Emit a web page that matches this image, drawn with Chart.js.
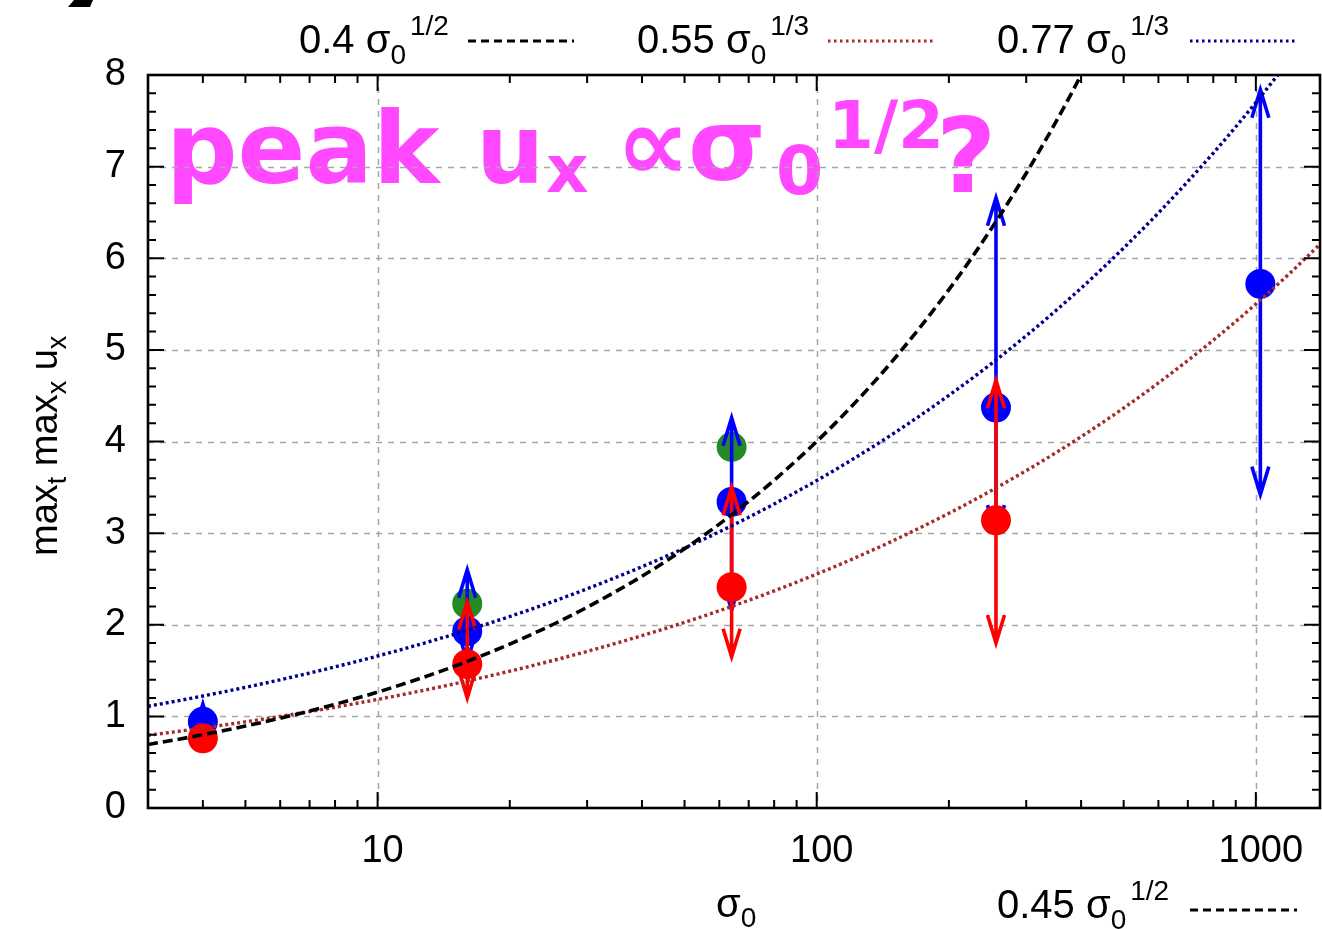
<!DOCTYPE html>
<html>
<head>
<meta charset="utf-8">
<script src="https://cdn.jsdelivr.net/npm/chart.js@4.4.1/dist/chart.umd.min.js"></script>
<style>
  html, body { margin: 0; padding: 0; background: #fff; }
  #wrap { width: 1322px; height: 929px; }
</style>
</head>
<body>
<div id="wrap"><canvas id="peakChart" width="1322" height="929"></canvas></div>
<script>
// runs at sigma_0 = 4^k
const sigma = [4, 16, 64, 256, 1024];

// peak u_x per run, plus the extent of the arrows drawn on each
const greenPeak = [null, 2.23, 3.94, null, null];
const bluePeak  = [0.94, 1.93, 3.34, 4.37, 5.72];
const blueHigh  = [1.135, 2.6, 4.26, 6.66, 7.84];
const blueLow   = [null, 1.6, 2.16, 3.0, 3.42];
const redPeak   = [0.76, 1.57, 2.41, 3.14, null];
const redHigh   = [null, 2.25, 3.5, 4.67, null];
const redLow    = [null, 1.2, 1.65, 1.8, null];

// power-law guides: coef * sigma_0^power
const fitCoef  = [0.4, 0.55, 0.77];
const fitPower = [1 / 2, 1 / 3, 1 / 3];
const fitSigma = [3, 3.5, 4, 5, 6, 7, 8, 10, 12, 14, 16, 20, 25, 30, 40, 50, 60, 70, 80, 100,
                  120, 150, 200, 250, 300, 350, 400, 450, 500, 600, 800, 1000, 1200, 1400];

const xTicks = [10, 100, 1000];
const yTicks = [0, 1, 2, 3, 4, 5, 6, 7, 8];

const AX_FONT = '"Liberation Sans", Arial, sans-serif';
const fitColor = ['#000000', '#a52a2a', '#00008b'];
const fitDash = [[10, 5], [3, 3], [3, 3]];

function pts(ys) {
  return sigma.map((s, i) => ({ x: s, y: ys[i] })).filter(p => p.y !== null);
}

// text with gnuplot-style sub/superscripts, laid out left to right
function drawRich(ctx, parts, x, y) {
  for (const p of parts) {
    ctx.font = (p.bold ? 'bold ' : '') + p.size + 'px ' + (p.family || AX_FONT);
    ctx.fillText(p.t, x + (p.dx || 0), y + (p.dy || 0));
    x += (p.dx || 0) + ctx.measureText(p.t).width;
  }
}

function drawArrow(ctx, x, y0, y1, color) {
  const dir = y1 < y0 ? 1 : -1;
  ctx.save();
  ctx.strokeStyle = color;
  ctx.lineWidth = 3.6;
  ctx.lineCap = 'butt';
  ctx.lineJoin = 'miter';
  ctx.beginPath();
  ctx.moveTo(x, y0);
  ctx.lineTo(x, y1);
  ctx.moveTo(x - 8.5, y1 + dir * 28);
  ctx.lineTo(x, y1);
  ctx.lineTo(x + 8.5, y1 + dir * 28);
  ctx.stroke();
  ctx.restore();
}

function drawArrows(chart, peak, hi, lo, color) {
  const xs = chart.scales.x, ys = chart.scales.y, ctx = chart.ctx;
  sigma.forEach((s, i) => {
    if (peak[i] === null) return;
    const px = xs.getPixelForValue(s), py = ys.getPixelForValue(peak[i]);
    if (hi[i] !== null) drawArrow(ctx, px, py, ys.getPixelForValue(hi[i]), color);
    if (lo[i] !== null) drawArrow(ctx, px, py, ys.getPixelForValue(lo[i]), color);
  });
}

const decor = {
  id: 'decor',
  beforeDatasetsDraw(chart) {
    const { ctx, chartArea: a } = chart;
    const xs = chart.scales.x, ys = chart.scales.y;
    ctx.save();
    // headline
    ctx.fillStyle = '#ff48ff';
    ctx.textBaseline = 'alphabetic';
    const T = '"DejaVu Sans", sans-serif';
    drawRich(ctx, [{ t: 'peak', size: 100, bold: true, family: T }], 166, 183);
    drawRich(ctx, [{ t: 'u', size: 96, bold: true, family: T }], 476, 183);
    drawRich(ctx, [{ t: 'x', size: 66, bold: true, family: T }], 546, 192);
    drawRich(ctx, [{ t: '\u221D', size: 104, bold: true, family: T }], 616, 180);
    drawRich(ctx, [{ t: '\u03C3', size: 100, bold: true, family: T }], 688, 180);
    drawRich(ctx, [{ t: '0', size: 68, bold: true, family: T }], 776, 194);
    drawRich(ctx, [{ t: '1/2', size: 66, bold: true, family: T }], 828, 148);
    drawRich(ctx, [{ t: '?', size: 104, bold: true, family: T }], 936, 192);

    // dashed grid
    ctx.strokeStyle = '#a6a6a6';
    ctx.lineWidth = 1.5;
    ctx.setLineDash([6, 6]);
    ctx.beginPath();
    yTicks.slice(1, -1).forEach(v => {
      const py = Math.round(ys.getPixelForValue(v)) + 0.5;
      ctx.moveTo(a.left, py); ctx.lineTo(a.right, py);
    });
    xTicks.forEach(v => {
      const px = Math.round(xs.getPixelForValue(v)) + 0.5;
      ctx.moveTo(px, a.top); ctx.lineTo(px, a.bottom);
    });
    ctx.stroke();
    ctx.restore();
  },
  afterDatasetDraw(chart, args) {
    const id = chart.data.datasets[args.index].id;
    if (id === 'green') drawArrows(chart, bluePeak, blueHigh, blueLow, '#0000ff');
    if (id === 'blue') drawArrows(chart, redPeak, redHigh, redLow, '#ff0000');
  },
  afterDraw(chart) {
    const { ctx, chartArea: a } = chart;
    const xs = chart.scales.x, ys = chart.scales.y;
    ctx.save();
    ctx.strokeStyle = '#000';
    // tick marks on all four sides
    ctx.lineWidth = 2;
    ctx.beginPath();
    for (let v = 0; v <= 8.001; v += 0.2) {
      const py = ys.getPixelForValue(v);
      const len = Math.abs(v - Math.round(v)) < 1e-6 ? 16 : 8;
      ctx.moveTo(a.left, py); ctx.lineTo(a.left + len, py);
      ctx.moveTo(a.right, py); ctx.lineTo(a.right - len, py);
    }
    for (let d = 1; d <= 1000; d *= 10) {
      for (let k = 1; k <= 9; k++) {
        const v = k * d;
        if (v <= xs.min || v >= xs.max) continue;
        const px = xs.getPixelForValue(v);
        const len = k === 1 ? 16 : 8;
        ctx.moveTo(px, a.bottom); ctx.lineTo(px, a.bottom - len);
        ctx.moveTo(px, a.top); ctx.lineTo(px, a.top + len);
      }
    }
    ctx.stroke();
    ctx.lineWidth = 2.6;
    ctx.strokeRect(a.left, a.top, a.right - a.left, a.bottom - a.top);

    // x tick labels
    ctx.fillStyle = '#000';
    ctx.font = '38px ' + AX_FONT;
    ctx.textAlign = 'center';
    ctx.textBaseline = 'alphabetic';
    xTicks.forEach(v => ctx.fillText(String(v), xs.getPixelForValue(v) + 5, a.bottom + 54));
    ctx.textAlign = 'left';

    // axis titles
    drawRich(ctx, [
      { t: '\u03C3', size: 40 },
      { t: '0', size: 28, dy: 10 }
    ], 716, 917);
    ctx.save();
    ctx.translate(57, 556);
    ctx.rotate(-Math.PI / 2);
    drawRich(ctx, [
      { t: 'max', size: 38 },
      { t: 't', size: 27, dy: 9 },
      { t: ' max', size: 38 },
      { t: 'x', size: 27, dy: 9 },
      { t: ' u', size: 38 },
      { t: 'x', size: 27, dy: 9 }
    ], 0, 0);
    ctx.restore();

    // key
    const keys = [
      { x: 299, y: 53, c: '0.4', p: '1/2', line: 0, x0: 468, x1: 574, ly: 41 },
      { x: 637, y: 53, c: '0.55', p: '1/3', line: 1, x0: 828, x1: 935, ly: 41 },
      { x: 997, y: 53, c: '0.77', p: '1/3', line: 2, x0: 1190, x1: 1295, ly: 41 },
      { x: 997, y: 918, c: '0.45', p: '1/2', line: 0, x0: 1190, x1: 1297, ly: 910 }
    ];
    const keyDash = [[8, 5], [2.5, 3.5], [2.5, 3.5]];
    keys.forEach(k => {
      drawRich(ctx, [
        { t: k.c + ' \u03C3', size: 40 },
        { t: '0', size: 28, dy: 11 },
        { t: k.p, size: 28, dx: 4, dy: -18 }
      ], k.x, k.y);
      ctx.save();
      ctx.strokeStyle = fitColor[k.line];
      ctx.lineWidth = 3;
      ctx.setLineDash(keyDash[k.line]);
      ctx.beginPath();
      ctx.moveTo(k.x0, k.ly); ctx.lineTo(k.x1, k.ly);
      ctx.stroke();
      ctx.restore();
    });

    // corner fragment of the panel letter
    ctx.beginPath();
    ctx.moveTo(74, 0); ctx.lineTo(93, 0); ctx.lineTo(90, 7); ctx.lineTo(68, 7);
    ctx.closePath();
    ctx.fill();
    ctx.restore();
  }
};

const pointSet = (id, ys, color, order) => ({
  id, type: 'scatter', data: pts(ys), order,
  backgroundColor: color, borderWidth: 0,
  pointRadius: 15, pointHoverRadius: 15, showLine: false
});

const fitSets = fitCoef.map((c, i) => ({
  id: 'fit' + i,
  type: 'line',
  data: fitSigma.map(s => ({ x: s, y: c * Math.pow(s, fitPower[i]) })),
  borderColor: fitColor[i],
  borderWidth: i === 0 ? 3.6 : 3.4,
  borderDash: fitDash[i],
  pointRadius: 0,
  fill: false,
  cubicInterpolationMode: 'monotone',
  order: i
}));

new Chart(document.getElementById('peakChart'), {
  type: 'scatter',
  data: {
    datasets: [
      pointSet('green', greenPeak, '#228b22', 5),
      pointSet('blue', bluePeak, '#0000ff', 4),
      pointSet('red', redPeak, '#ff0000', 3),
      ...fitSets
    ]
  },
  options: {
    responsive: false,
    devicePixelRatio: 1,
    animation: false,
    events: [],
    layout: { autoPadding: false, padding: { left: 0, top: 75, right: 2, bottom: 0 } },
    plugins: { legend: { display: false }, tooltip: { enabled: false } },
    scales: {
      x: {
        type: 'logarithmic',
        min: 3,
        max: 1400,
        grid: { display: false },
        border: { display: false },
        ticks: { display: false },
        afterFit: s => { s.height = 121; s.paddingLeft = 0; s.paddingRight = 0; }
      },
      y: {
        min: 0,
        max: 8,
        grid: { display: false },
        border: { display: false },
        afterBuildTicks: s => { s.ticks = yTicks.map(v => ({ value: v })); },
        afterFit: s => { s.width = 148; s.paddingTop = 0; s.paddingBottom = 0; },
        ticks: {
          color: '#000',
          font: { family: AX_FONT, size: 38 },
          padding: 14
        }
      }
    }
  },
  plugins: [decor]
});
</script>
</body>
</html>
